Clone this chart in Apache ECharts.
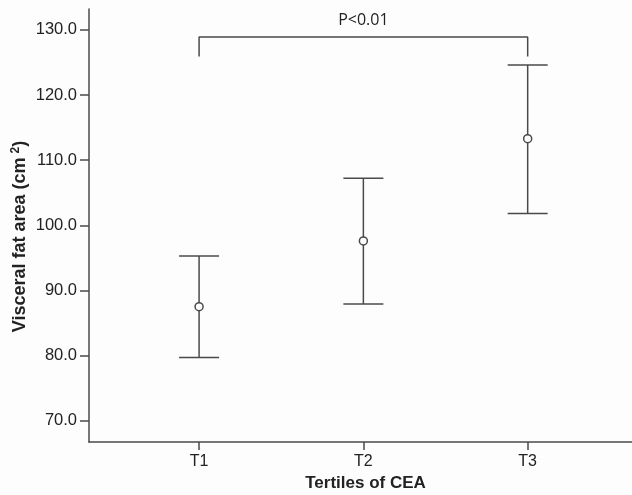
<!DOCTYPE html>
<html>
<head>
<meta charset="utf-8">
<script src="https://cdn.jsdelivr.net/npm/echarts@6/dist/echarts.min.js"></script>
<style>
html,body{margin:0;padding:0;background:#fdfdfd;}
#chart{width:632px;height:495px;}
</style>
</head>
<body>
<div id="chart"></div>
<script>
const categories = ['T1', 'T2', 'T3'];
const means = [87.5, 97.6, 113.3];
const lowers = [79.7, 87.9, 101.8];
const uppers = [95.3, 107.2, 124.6];
const yTicks = [70, 80, 90, 100, 110, 120, 130];
const bracketLevels = { foot: 125.9, top: 128.9 };
const bracketText = 'P<0.01';

const lineColor = '#4a4a4a';
const font = '"Liberation Sans", Arial, sans-serif';

const errData = categories.map((c, i) => [i + 1, lowers[i], uppers[i]]);
const meanData = categories.map((c, i) => [i + 1, means[i]]);
const bracketData = [[1, bracketLevels.foot], [1, bracketLevels.top], [3, bracketLevels.top], [3, bracketLevels.foot]];

const chart = echarts.init(document.getElementById('chart'));
chart.setOption({
  backgroundColor: '#fdfdfd',
  animation: false,
  grid: { left: 89, right: 0, top: 9, bottom: 53, containLabel: false, outerBoundsMode: 'none' },
  xAxis: {
    type: 'value',
    min: 0.33,
    max: 3.635,
    name: 'Tertiles of CEA',
    nameLocation: 'middle',
    nameGap: 33,
    nameMoveOverlap: false,
    nameTextStyle: { fontFamily: font, fontWeight: 'bold', fontSize: 17, color: '#222', padding: [0, 0, 0, 10] },
    axisLine: { show: true, lineStyle: { color: lineColor, width: 1.5 } },
    axisTick: { show: true, length: 8, lineStyle: { color: lineColor, width: 1.5 }, customValues: [1, 2, 3] },
    axisLabel: {
      customValues: [1, 2, 3],
      formatter: v => categories[Math.round(v) - 1] || '',
      fontFamily: font, fontSize: 16, color: '#222', margin: 12
    },
    splitLine: { show: false }
  },
  yAxis: {
    type: 'value',
    min: 66.73,
    max: 133.2,
    name: 'Visceral fat area (cm{sup|2})',
    nameLocation: 'middle',
    nameGap: 58,
    nameRotate: 90,
    nameMoveOverlap: false,
    nameTextStyle: {
      fontFamily: font, fontWeight: 'bold', fontSize: 18, color: '#222',
      padding: [0, 22, 0, 0],
      rich: { sup: { fontFamily: font, fontWeight: 'bold', fontSize: 12, color: '#222', verticalAlign: 'top', padding: [0, 0, 9, 4] } }
    },
    axisLine: { show: true, lineStyle: { color: lineColor, width: 1.5 } },
    axisTick: { show: true, length: 9, lineStyle: { color: lineColor, width: 1.5 }, customValues: yTicks },
    axisLabel: {
      customValues: yTicks,
      formatter: v => Number(v).toFixed(1),
      fontFamily: font, fontSize: 16.5, color: '#222', margin: 12
    },
    splitLine: { show: false }
  },
  series: [
    {
      type: 'custom',
      data: errData,
      renderItem: function (params, api) {
        const x = api.value(0);
        const lo = api.coord([x, api.value(1)]);
        const hi = api.coord([x, api.value(2)]);
        const hw = 20;
        const style = { stroke: lineColor, lineWidth: 1.5, fill: null };
        return {
          type: 'group',
          children: [
            { type: 'line', shape: { x1: hi[0], y1: hi[1], x2: lo[0], y2: lo[1] }, style: style },
            { type: 'line', shape: { x1: hi[0] - hw, y1: hi[1], x2: hi[0] + hw, y2: hi[1] }, style: style },
            { type: 'line', shape: { x1: lo[0] - hw, y1: lo[1], x2: lo[0] + hw, y2: lo[1] }, style: style }
          ]
        };
      },
      z: 2
    },
    {
      type: 'scatter',
      data: meanData,
      symbol: 'circle',
      symbolSize: 8,
      itemStyle: { color: '#fdfdfd', borderColor: lineColor, borderWidth: 1.5, opacity: 1 },
      z: 3
    },
    {
      type: 'line',
      data: bracketData,
      symbol: 'none',
      lineStyle: { color: lineColor, width: 1.5 },
      z: 2
    },
    {
      type: 'custom',
      data: [[2, bracketLevels.top]],
      renderItem: function (params, api) {
        const p = api.coord([api.value(0), api.value(1)]);
        return {
          type: 'text',
          x: p[0],
          y: p[1] - 17,
          style: {
            text: bracketText,
            fontFamily: '"Open Sans", "Liberation Sans", sans-serif',
            fontSize: 16,
            fill: '#222',
            align: 'center',
            verticalAlign: 'middle'
          }
        };
      },
      z: 3
    }
  ]
});
</script>
</body>
</html>
